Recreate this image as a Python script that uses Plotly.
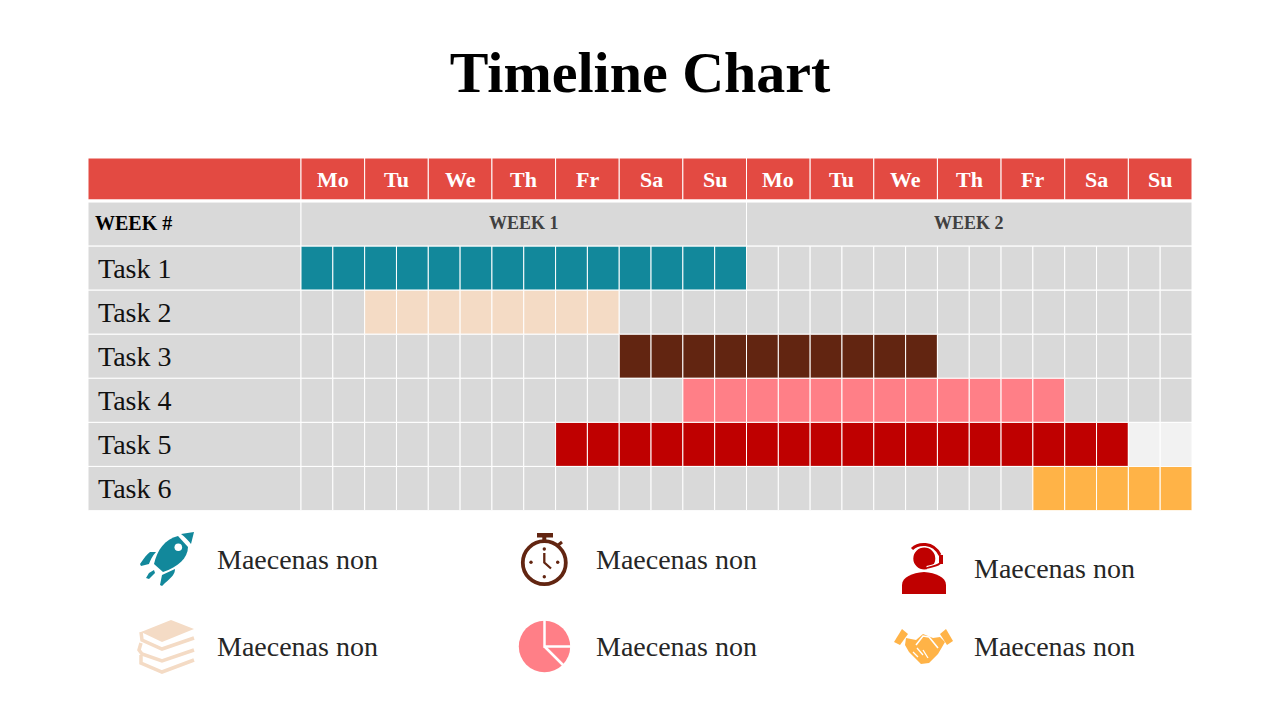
import plotly.graph_objects as go

# Chart data
days = ['Mo', 'Tu', 'We', 'Th', 'Fr', 'Sa', 'Su'] * 2
weeks = ['WEEK 1', 'WEEK 2']
tasks = ['Task 1', 'Task 2', 'Task 3', 'Task 4', 'Task 5', 'Task 6']
task_start = [0, 2, 10, 12, 8, 23]   # half-day slots
task_end = [14, 10, 20, 24, 26, 28]
task_colors = ['#12889B', '#F4DBC5', '#622511', '#FF7F87', '#BF0000', '#FFB347']
legend_text = 'Maecenas non'

RED = '#E34A42'
GREY = '#D9D9D9'
PALE = '#F2F2F2'
SERIF = 'Liberation Serif'
SLOTS = 28
LABEL_SLOTS = 6.694  # width of the label column, in slots

rows = ['header', 'week'] + tasks
WHITE_LINE = dict(color='white', width=1)


def add_cells(fig, row, starts, widths, colors, **kw):
    fig.add_trace(go.Bar(
        y=[row] * len(starts), x=widths, base=starts, orientation='h',
        marker=dict(color=colors, line=WHITE_LINE),
        hoverinfo='skip', showlegend=False, **kw
    ))


fig = go.Figure()

# Header row
add_cells(fig, 'header', [-LABEL_SLOTS], [LABEL_SLOTS], [RED], width=0.95, offset=-0.5)
add_cells(fig, 'header', [i * 2 for i in range(14)], [2] * 14, [RED] * 14, width=0.95, offset=-0.5)

# Week row
add_cells(fig, 'week', [-LABEL_SLOTS, 0, 14], [LABEL_SLOTS, 14, 14], [GREY] * 3, width=1)

# Task rows, one cell per half-day
for i, task in enumerate(tasks):
    colors = []
    for slot in range(SLOTS):
        if task_start[i] <= slot < task_end[i]:
            colors.append(task_colors[i])
        elif task == 'Task 5' and slot >= task_end[i]:
            colors.append(PALE)
        else:
            colors.append(GREY)
    add_cells(fig, task, [-LABEL_SLOTS], [LABEL_SLOTS], [GREY], width=1)
    add_cells(fig, task, list(range(SLOTS)), [1] * SLOTS, colors, width=1)

# Grid text
for i, day in enumerate(days):
    fig.add_annotation(x=i * 2 + 1, y='header', yshift=1, text='<b>%s</b>' % day, showarrow=False,
                       font=dict(family=SERIF, size=22, color='white'))
for i, week in enumerate(weeks):
    fig.add_annotation(x=i * 14 + 7, y='week', yshift=1, text='<b>%s</b>' % week, showarrow=False,
                       font=dict(family=SERIF, size=18, color='#404040'))
fig.add_annotation(x=-LABEL_SLOTS, y='week', xshift=5, yshift=1, xanchor='left', text='<b>WEEK #</b>',
                   showarrow=False, font=dict(family=SERIF, size=20, color='black'))
for task in tasks:
    fig.add_annotation(x=-LABEL_SLOTS, y=task, xshift=8, xanchor='left', text=task,
                       showarrow=False, font=dict(family=SERIF, size=28, color='#111111'))

# Legend text, placed on the full-page pixel axes
for x, y in [(215, 559), (594, 559), (972, 568), (215, 646), (594, 646), (972, 646)]:
    fig.add_annotation(xref='x2', yref='y2', x=x, y=y, xanchor='left', text=legend_text,
                       showarrow=False, font=dict(family=SERIF, size=28, color='#262626'))


# Icon helpers, all in page pixels
def fill(path, color):
    fig.add_shape(type='path', xref='x2', yref='y2', path=path, fillcolor=color, line=dict(width=0))


def stroke(path, color, width):
    fig.add_shape(type='path', xref='x2', yref='y2', path=path, line=dict(color=color, width=width))


def circle(cx, cy, r, color, line_width=0):
    fig.add_shape(type='circle', xref='x2', yref='y2', x0=cx - r, x1=cx + r, y0=cy - r, y1=cy + r,
                  fillcolor=color if not line_width else 'rgba(0,0,0,0)',
                  line=dict(color=color, width=line_width))


# Rocket
TEAL = task_colors[0]
fill('M181,534 L194,532 L191,544 C188,540 185,537 181,534 Z', TEAL)
fill('M178,536 L188,547 C188,558 178,567 163,572 L154,564 C157,550 165,539 178,536 Z', TEAL)
circle(178.3, 547.3, 3.8, 'white')
fill('M140,564 C144,558 147,554 150,552 L156,552 C152,556 150,561 149,564 L141,566 Z', TEAL)
fill('M160,585 L162,575 L175,569 C175,574 172,577 165,583 L162,586 Z', TEAL)
fill('M146,578 L149,573 L154,570 L155,573 L149,579 Z', TEAL)

# Books
PEACH = task_colors[1]
fill('M171,620 L194,629 L162,642 L141,632 Z', PEACH)
stroke('M141,632 L142,640 L162,649 L194,638', PEACH, 3.5)
stroke('M141,643 L139,650 L142,654 L162,661 L194,650', PEACH, 3.5)
stroke('M141,655 L141,663 L162,672 L194,660', PEACH, 3.5)

# Stopwatch
BROWN = task_colors[2]
circle(544.3, 562.7, 21.5, BROWN, 3.8)
fill('M537,533 L553,533 L553,537.5 L537,537.5 Z', BROWN)
fill('M542.3,537 L546.3,537 L546.3,541 L542.3,541 Z', BROWN)
stroke('M557,546 L562,542', BROWN, 3)
stroke('M544.3,553 L544.3,562.5 L551,568.5', BROWN, 2.3)
for x, y in [(544.3, 549), (531, 562.3), (557.7, 562.3), (544.3, 576.7)]:
    circle(x, y, 1.7, BROWN)

# Pie
PINK = task_colors[3]
circle(544.5, 646.5, 25.7, PINK)
stroke('M544.5,619 L544.5,646.5 L572,646.5', 'white', 2.5)
stroke('M544.5,646.5 L564,666', 'white', 2.5)

# Headset person
DARK_RED = task_colors[4]
circle(924.3, 558.5, 11, DARK_RED)
fill('M902,594 L902,585 C902,577 912,573 924,572 C936,573 946,577 946,585 L946,594 Z', DARK_RED)
stroke('M912,549 C918,543 933,541 940,555', DARK_RED, 3)
stroke('M941,562 C939,566 933,566 927,568', 'white', 4)
stroke('M941,562 C939,566 933,566 927,568', DARK_RED, 1.8)
fill('M939,555 L943,555 L943,564 L939,564 Z', DARK_RED)

# Handshake
ORANGE = task_colors[5]
fill('M894,642 L902,629 L908,634 L900,645 Z', ORANGE)
fill('M940,634 L946,629 L953,641 L947,645 Z', ORANGE)
fill('M906,638 L916,640 L923,634 L933,638 L940,637 L945,642 L938,654 L929,663 L921,664 L909,652 L905,645 Z', ORANGE)
stroke('M916,645 L923,636 L929,637 L938,648', 'white', 1.6)
stroke('M913,652 L918,657 M917,648 L923,655 M923,650 L928,658', 'white', 1.3)

fig.update_layout(
    title=dict(text='<b>Timeline Chart</b>', x=0.5, xanchor='center', y=0.9, yanchor='middle',
               font=dict(family=SERIF, size=58, color='black')),
    width=1280, height=720,
    margin=dict(l=0, r=0, t=0, b=0),
    paper_bgcolor='white', plot_bgcolor='rgba(0,0,0,0)',
    barmode='overlay',
    xaxis=dict(domain=[88 / 1280, 1192 / 1280], range=[-LABEL_SLOTS, SLOTS], visible=False, fixedrange=True),
    yaxis=dict(domain=[1 - 510.5 / 720, 1 - 158 / 720], type='category', categoryorder='array',
               categoryarray=rows, range=[7.5, -0.5], visible=False, fixedrange=True),
    xaxis2=dict(domain=[0, 1], range=[0, 1280], visible=False, anchor='y2', fixedrange=True),
    yaxis2=dict(domain=[0, 1], range=[720, 0], visible=False, anchor='x2', fixedrange=True),
)

fig.write_html("out.html", config=dict(displayModeBar=False), post_script="document.body.style.margin='0';")
